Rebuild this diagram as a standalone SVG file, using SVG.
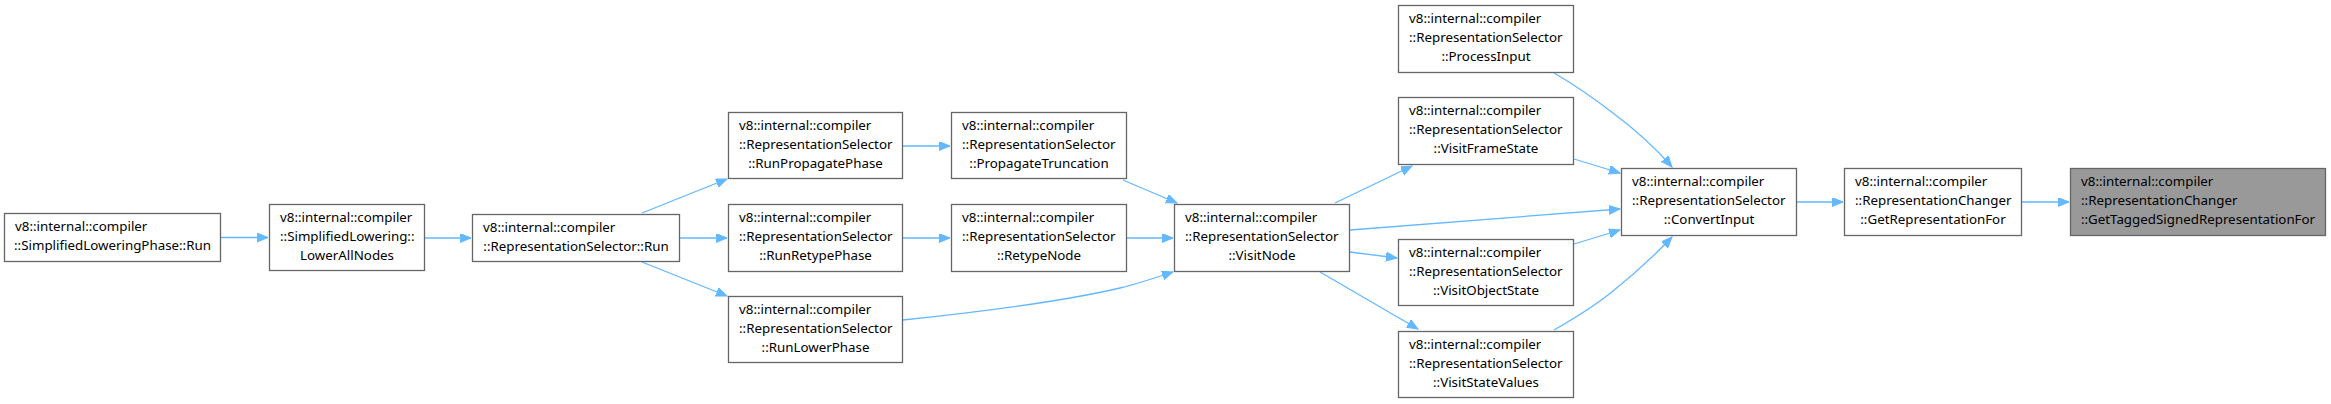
<svg xmlns="http://www.w3.org/2000/svg" width="2331" height="404" viewBox="0 0 2331 404">
<style>
.n rect{fill:#ffffff;stroke:#666666;stroke-width:1.3}
.n.cur rect{fill:#999999}
.n text{font-family:"Noto Sans","DejaVu Sans",sans-serif;font-size:13.33px;fill:#000000}
.s{text-anchor:start}
.m{text-anchor:middle}
.e path{fill:none;stroke:#63b8ff;stroke-width:1.3;marker-end:url(#ah)}
</style>
<defs>
<marker id="ah" markerUnits="userSpaceOnUse" markerWidth="12" markerHeight="10" refX="11" refY="4.5" orient="auto">
<path d="M0,0 L11,4.5 L0,9 z" fill="#63b8ff" stroke="#63b8ff" stroke-width="1"/>
</marker>
</defs>
<rect width="2331" height="404" fill="#ffffff"/>
<g id="edges" class="e">
<path d="M221,237.5 L268,237.5"/>
<path d="M425,238 L471,238"/>
<path d="M642,213 L727,179"/>
<path d="M680,238 L727,238"/>
<path d="M642,262 L727,296"/>
<path d="M903,146 L950,146"/>
<path d="M903,238 L950,238"/>
<path d="M903,320 C980,312 1060,302 1120,288 C1140,283 1158,277 1173,272"/>
<path d="M1123,180 L1177,203"/>
<path d="M1127,238 L1173,238"/>
<path d="M1335,203 L1412,166"/>
<path d="M1350,230 L1620,209"/>
<path d="M1350,252 L1397,258"/>
<path d="M1320,272 L1418,329"/>
<path d="M1554,73 C1575,85 1596,100 1613,113 C1633,128 1654,146 1672,167"/>
<path d="M1574,159 L1620,173"/>
<path d="M1574,244 L1620,230"/>
<path d="M1554,330 C1575,318 1596,305 1613,291 C1633,275 1654,256 1672,237"/>
<path d="M1797,202 L1843,202"/>
<path d="M2022,202 L2069,202"/>
</g>
<g id="n_phase_run" class="n"><rect x="4.5" y="213.5" width="216" height="48"/>
<text class="s" x="15" y="231">v8::internal::compiler</text>
<text class="m" x="112.5" y="250">::SimplifiedLoweringPhase::Run</text></g>
<g id="n_lowerallnodes" class="n"><rect x="269.5" y="204.5" width="155" height="66"/>
<text class="s" x="280" y="222">v8::internal::compiler</text>
<text class="s" x="280" y="241">::SimplifiedLowering::</text>
<text class="m" x="347" y="260">LowerAllNodes</text></g>
<g id="n_sel_run" class="n"><rect x="472.5" y="214.5" width="207" height="47"/>
<text class="s" x="483" y="232">v8::internal::compiler</text>
<text class="m" x="576" y="251">::RepresentationSelector::Run</text></g>
<g id="n_runpropagate" class="n"><rect x="728.5" y="112.5" width="174" height="66"/>
<text class="s" x="739" y="130">v8::internal::compiler</text>
<text class="s" x="739" y="149">::RepresentationSelector</text>
<text class="m" x="815.5" y="168">::RunPropagatePhase</text></g>
<g id="n_runretype" class="n"><rect x="728.5" y="204.5" width="174" height="67"/>
<text class="s" x="739" y="222">v8::internal::compiler</text>
<text class="s" x="739" y="241">::RepresentationSelector</text>
<text class="m" x="815.5" y="260">::RunRetypePhase</text></g>
<g id="n_runlower" class="n"><rect x="728.5" y="296.5" width="174" height="66"/>
<text class="s" x="739" y="314">v8::internal::compiler</text>
<text class="s" x="739" y="333">::RepresentationSelector</text>
<text class="m" x="815.5" y="352">::RunLowerPhase</text></g>
<g id="n_propagatetrunc" class="n"><rect x="951.5" y="112.5" width="175" height="66"/>
<text class="s" x="962" y="130">v8::internal::compiler</text>
<text class="s" x="962" y="149">::RepresentationSelector</text>
<text class="m" x="1039" y="168">::PropagateTruncation</text></g>
<g id="n_retypenode" class="n"><rect x="951.5" y="204.5" width="175" height="67"/>
<text class="s" x="962" y="222">v8::internal::compiler</text>
<text class="s" x="962" y="241">::RepresentationSelector</text>
<text class="m" x="1039" y="260">::RetypeNode</text></g>
<g id="n_visitnode" class="n"><rect x="1174.5" y="204.5" width="175" height="67"/>
<text class="s" x="1185" y="222">v8::internal::compiler</text>
<text class="s" x="1185" y="241">::RepresentationSelector</text>
<text class="m" x="1262" y="260">::VisitNode</text></g>
<g id="n_processinput" class="n"><rect x="1398.5" y="5.5" width="175" height="67"/>
<text class="s" x="1409" y="23">v8::internal::compiler</text>
<text class="s" x="1409" y="42">::RepresentationSelector</text>
<text class="m" x="1486" y="61">::ProcessInput</text></g>
<g id="n_visitframestate" class="n"><rect x="1398.5" y="97.5" width="175" height="67"/>
<text class="s" x="1409" y="115">v8::internal::compiler</text>
<text class="s" x="1409" y="134">::RepresentationSelector</text>
<text class="m" x="1486" y="153">::VisitFrameState</text></g>
<g id="n_visitobjectstate" class="n"><rect x="1398.5" y="239.5" width="175" height="66"/>
<text class="s" x="1409" y="257">v8::internal::compiler</text>
<text class="s" x="1409" y="276">::RepresentationSelector</text>
<text class="m" x="1486" y="295">::VisitObjectState</text></g>
<g id="n_visitstatevalues" class="n"><rect x="1398.5" y="331.5" width="175" height="66"/>
<text class="s" x="1409" y="349">v8::internal::compiler</text>
<text class="s" x="1409" y="368">::RepresentationSelector</text>
<text class="m" x="1486" y="387">::VisitStateValues</text></g>
<g id="n_convertinput" class="n"><rect x="1621.5" y="168.5" width="175" height="67"/>
<text class="s" x="1632" y="186">v8::internal::compiler</text>
<text class="s" x="1632" y="205">::RepresentationSelector</text>
<text class="m" x="1709" y="224">::ConvertInput</text></g>
<g id="n_getrepfor" class="n"><rect x="1844.5" y="168.5" width="177" height="67"/>
<text class="s" x="1855" y="186">v8::internal::compiler</text>
<text class="s" x="1855" y="205">::RepresentationChanger</text>
<text class="m" x="1933" y="224">::GetRepresentationFor</text></g>
<g id="n_gettaggedsigned" class="n cur"><rect x="2070.5" y="168.5" width="255" height="67"/>
<text class="s" x="2081" y="186">v8::internal::compiler</text>
<text class="s" x="2081" y="205">::RepresentationChanger</text>
<text class="m" x="2198" y="224">::GetTaggedSignedRepresentationFor</text></g>
</svg>
